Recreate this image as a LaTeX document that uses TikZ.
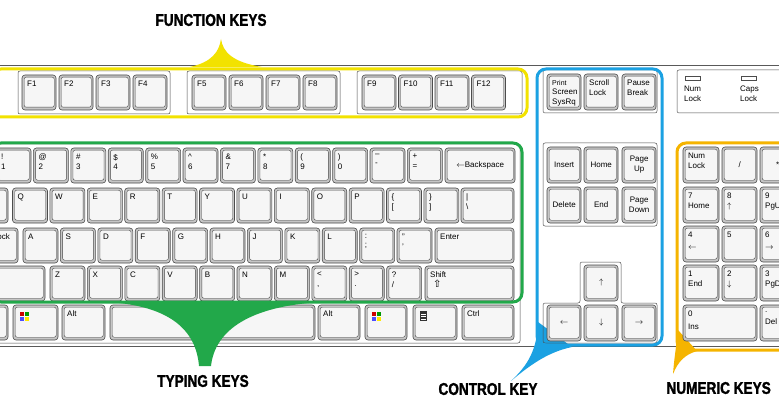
\documentclass[tikz,border=0pt]{standalone}
\usepackage{fontspec}
\setmainfont{Liberation Sans}
\newfontfamily\dejavu{DejaVu Sans}
\newfontfamily\headfont[FakeStretch=0.8,BoldFeatures={FakeBold=1.5}]{Liberation Sans}
\definecolor{kyel}{HTML}{F2E200}
\definecolor{kgrn}{HTML}{22A84A}
\definecolor{kblu}{HTML}{1BA1E2}
\definecolor{kora}{HTML}{F5B400}
\tikzset{
 keyout/.style={draw=gray!60!black,fill=gray!45,rounded corners=3pt,line width=0.6pt},
 keyin/.style={draw=gray!55!black,fill=gray!7,rounded corners=2pt,line width=0.4pt,inner sep=0pt},
 keytxt/.style={font=\fontsize{8}{9.5}\selectfont,align=left,inner sep=0pt},
 keyctr/.style={font=\fontsize{8}{9.5}\selectfont,align=center,inner sep=0pt},
 grp/.style={draw=gray!60!black,rounded corners=2pt,line width=0.5pt},
 head/.style={font=\headfont\bfseries\fontsize{17}{19}\selectfont},
 hl/.style={line width=3pt,rounded corners=9pt}
}
\newcommand\kk[6]{%
 \draw[keyout] (#1,#2) rectangle ++(#3,#4);
 \node[keyin,minimum width={(#3-4)*1pt},minimum height={(#4-5)*1pt},anchor=north west] (#5) at ({#1+2},{#2+2}) {};
 \node[keytxt,anchor=north west] at ({#1+5},{#2+6}) {#6};}
\newcommand\kc[6]{%
 \draw[keyout] (#1,#2) rectangle ++(#3,#4);
 \node[keyin,minimum width={(#3-4)*1pt},minimum height={(#4-5)*1pt},anchor=north west] (#5) at ({#1+2},{#2+2}) {};
 \node[keyctr] at (#5.center) {#6};}
\newcommand\winlogo[2]{%
 \fill[red!80!black] (#1,#2) rectangle ++(4,4);
 \fill[green!60!black] ({#1+5},#2) rectangle ++(4,4);
 \fill[blue!70] (#1,{#2+5}) rectangle ++(4,4);
 \fill[yellow!90!orange] ({#1+5},{#2+5}) rectangle ++(4,4);}
\begin{document}
\begin{tikzpicture}[x=1pt,y=-1pt]
\useasboundingbox (0,0) rectangle (779,409);
\fill[white] (0,0) rectangle (779,409);
% frame lines
\draw[gray!70!black,line width=0.8pt] (0,65) -- (779,65);
\draw[gray!70!black,line width=0.8pt] (0,346) -- (779,346);
% tails
\fill[kblu] (538,322) .. controls (537,350) and (528,365) .. (511,381) .. controls (530,365) and (548,352) .. (572,347) -- cycle;
\fill[kora] (678,330) .. controls (676,348) and (674,360) .. (673,374) .. controls (678,362) and (684,355) .. (697,351) -- cycle;
% function keys
\draw[grp] (18,71) rectangle (170,114);
\draw[grp] (187,71) rectangle (340,114);
\draw[grp] (357,71) rectangle (522,114);
\foreach \t [count=\i from 0] in {F1,F2,F3,F4} \kk{22+37*\i}{75}{34}{35}{f\i}{\t};
\foreach \t [count=\i from 0] in {F5,F6,F7,F8} \kk{192+37*\i}{75}{34}{35}{g\i}{\t};
\foreach \t [count=\i from 0] in {F9,F10,F11,F12} \kk{362+36.5*\i}{75}{34}{35}{h\i}{\t};
% typing keys
\draw[grp] (-5,144) rectangle (520,343);
\foreach \t [count=\i from 0] in {{!\\1},{@\\2},{\#\\3},{\$\\4},{\%\\5},{\^{}\\6},{\&\\7},{*\\8},{(\\9},{)\\0},{--\\-},{+\\=}}
  \kk{-4+37.4*\i}{148}{35}{35}{ra\i}{\t};
\kc{445}{148}{70}{35}{bksp}{$\leftarrow$Backspace}
\kk{-30}{188}{38}{35}{tab}{}
\foreach \t [count=\i from 0] in {Q,W,E,R,T,Y,U,I,O,P,{\{\\{[}},{\}\\{]}}}
  \kk{12.5+37.4*\i}{188}{35}{35}{rb\i}{\t};
\kk{461}{188}{53}{35}{bsl}{|\\\textbackslash}
\draw[keyout] (-30,228) rectangle ++(48,35);
\node[keyin,minimum width=44pt,minimum height=30pt,anchor=north west] (caps) at (-28,230) {};
\node[keytxt,anchor=north east] at (10,234) {Caps Lock};
\foreach \t [count=\i from 0] in {A,S,D,F,G,H,J,K,L,{:\\;},{"\\'}}
  \kk{23+37.4*\i}{228}{35}{35}{rc\i}{\t};
\kk{435}{228}{79}{35}{enter}{Enter}
\kk{-30}{266}{75}{35}{lshift}{}
\foreach \t [count=\i from 0] in {Z,X,C,V,B,N,M,{<\\,},{>\\.},{?\\/}}
  \kk{50+37.4*\i}{266}{35}{35}{rd\i}{\t};
\kk{425}{266}{89}{35}{rshift}{Shift\\\hspace*{3pt}{\dejavu\fontsize{10}{10}\selectfont ⇧}}
\kk{-30}{305}{38}{35}{lctrl}{}
\kk{13}{305}{45}{35}{lwin}{} \winlogo{20}{312}
\kk{62}{305}{43}{35}{lalt}{Alt}
\kk{110}{305}{205}{35}{space}{}
\kk{318}{305}{42}{35}{ralt}{Alt}
\kk{365}{305}{42}{35}{rwin}{} \winlogo{372}{312}
\kk{413}{305}{44}{35}{menu}{}
\fill[black!80] (420,311) rectangle ++(7,10);
\draw[white,line width=0.5pt] (421,314) -- (426,314) (421,316.5) -- (426,316.5) (421,319) -- (426,319);
\kk{462}{305}{52}{35}{rctrl}{Ctrl}
% control keys
\draw[grp] (543,70) rectangle (657,113);
\kk{547}{74}{34}{36}{prt}{\fontsize{7}{7}\selectfont Print\\Screen\\SysRq}
\kk{584}{74}{34}{36}{scr}{Scroll\\Lock}
\kk{622}{74}{34}{36}{pau}{Pause\\Break}
\draw[grp] (543,143) rectangle (657,226);
\kc{547}{147}{34}{36}{ins}{Insert}
\kc{584}{147}{34}{36}{home}{Home}
\kc{622}{147}{34}{36}{pgup}{Page\\Up}
\kc{547}{187}{34}{36}{del}{Delete}
\kc{584}{187}{34}{36}{end}{End}
\kc{622}{187}{34}{36}{pgdn}{Page\\Down}
\draw[grp] (543,343) -- (543,303) -- (580,303) -- (580,262) -- (621,262) -- (621,303) -- (657,303) -- (657,343) -- cycle;
\kc{584}{265}{34}{36}{up}{$\uparrow$}
\kc{547}{305}{34}{36}{left}{$\leftarrow$}
\kc{584}{305}{34}{36}{down}{$\downarrow$}
\kc{622}{305}{34}{36}{right}{$\rightarrow$}
% indicators
\draw[grp] (677,70) rectangle (790,113);
\draw[gray!60!black] (685,76) rectangle (700,80);
\draw[gray!60!black] (741,76) rectangle (756,80);
\node[keytxt,anchor=north west] (numled) at (684,86) {Num\\Lock};
\node[keytxt,anchor=north west] (capsled) at (740,86) {Caps\\Lock};
% numeric keys
\kk{683}{147}{36}{36}{nlk}{Num\\Lock}
\kc{722}{147}{35}{36}{ndiv}{/}
\kc{760}{147}{35}{36}{nmul}{*}
\kk{683}{187}{36}{36}{n7}{7\\Home}
\kk{722}{187}{35}{36}{n8}{8\\$\uparrow$}
\kk{760}{187}{35}{36}{n9}{9\\PgUp}
\kk{683}{226}{36}{36}{n4}{4\\[2pt]$\leftarrow$}
\kk{722}{226}{35}{36}{n5}{5}
\kk{760}{226}{35}{36}{n6}{6\\[2pt]$\rightarrow$}
\kk{683}{265}{36}{36}{n1}{1\\End}
\kk{722}{265}{35}{36}{n2}{2\\$\downarrow$}
\kk{760}{265}{35}{36}{n3}{3\\PgDn}
\kk{683}{305}{74}{36}{n0}{0\\[3pt]Ins}
\kk{760}{305}{35}{36}{ndot}{.\\[3pt]Del}
% highlights
\fill[kyel] (190,67) .. controls (212,62) and (219,52) .. (221,39) .. controls (223,52) and (232,62) .. (262,67) -- cycle;
\draw[kyel,hl] (-8,69) rectangle (527,117);
\fill[kgrn] (108,302) .. controls (170,306) and (196,330) .. (199,366) -- (211,366) .. controls (215,330) and (250,306) .. (322,302) -- cycle;
\draw[kgrn,hl] (-8,143) rectangle (522,302);
\draw[kblu,hl] (537,69) rectangle (662,345);
\draw[kora,hl] (677,143) rectangle (795,350);
% labels
\node[head] (lfun) at (211,20) {FUNCTION KEYS};
\node[head] (ltyp) at (203,381) {TYPING KEYS};
\node[head] (lctl) at (488,389) {CONTROL KEY};
\node[head,anchor=west] (lnum) at (663,388) {NUMERIC KEYS};
\end{tikzpicture}
\end{document}
